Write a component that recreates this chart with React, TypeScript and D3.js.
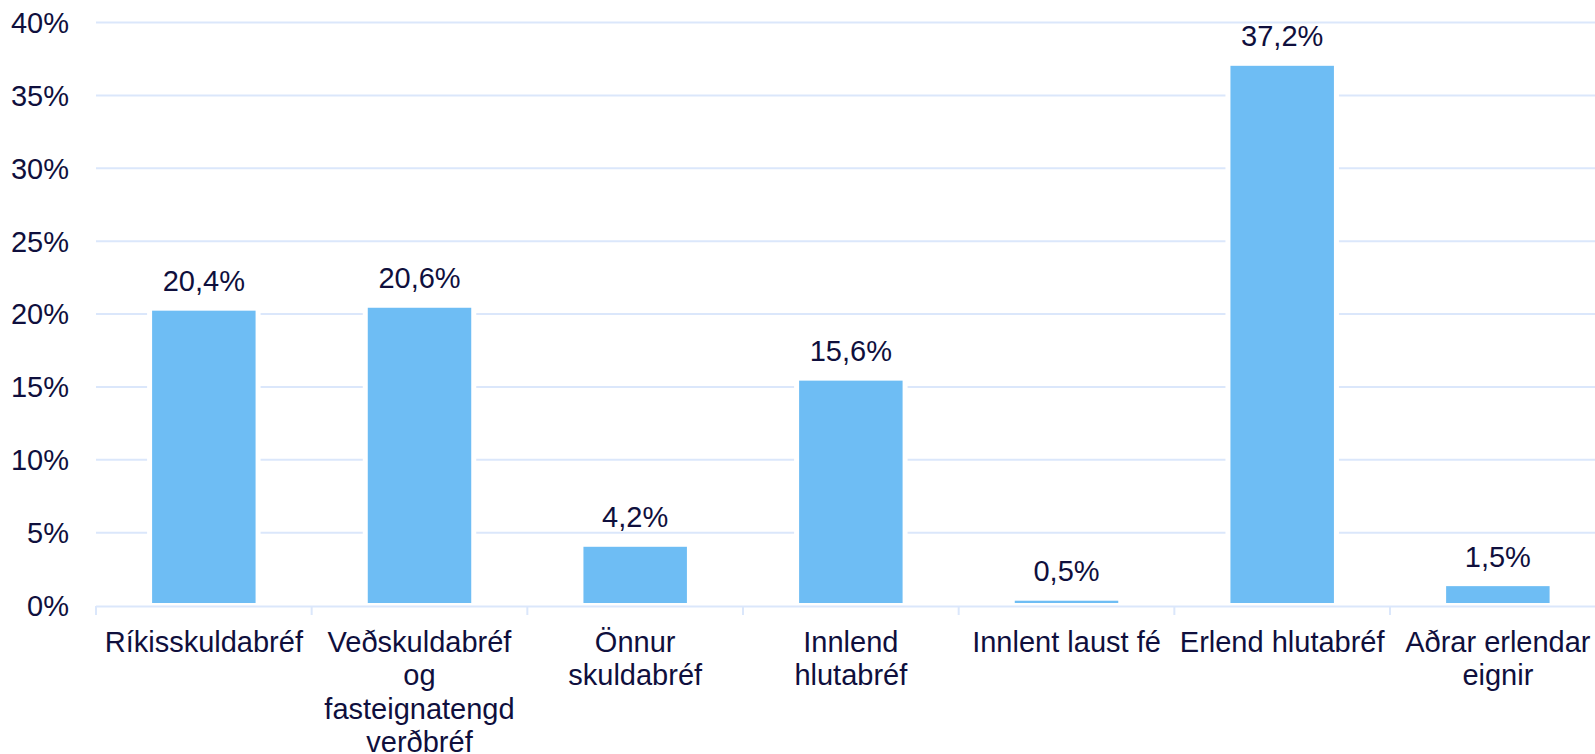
import React from "react";
import * as d3 from "d3";

const categories: string[] = [
  "Ríkisskuldabréf",
  "Veðskuldabréf\nog\nfasteignatengd\nverðbréf",
  "Önnur\nskuldabréf",
  "Innlend\nhlutabréf",
  "Innlent laust fé",
  "Erlend hlutabréf",
  "Aðrar erlendar\neignir",
];
const values: number[] = [20.4, 20.6, 4.2, 15.6, 0.5, 37.2, 1.5];
const yTicks: number[] = [0, 5, 10, 15, 20, 25, 30, 35, 40];

const W = 1595;
const H = 754;
const left = 96;
const right = 96 + 7 * 215.67;
const y0 = 605.5;
const yTop = 22.5;
const TEXT = "#0f0f3d";
const GRID = "#dbe7fb";
const BAR = "#6ebdf4";
const FONT = "'Liberation Sans', Arial, sans-serif";

export default function App() {
  const x = d3.scaleBand<string>().domain(categories).range([left, right]).padding(0);
  const y = d3.scaleLinear().domain([0, 40]).range([y0, yTop]);
  const bw = x.bandwidth();
  const barW = bw * 0.503;
  const fmt = (v: number) => v.toFixed(1).replace(".", ",") + "%";

  return (
    <svg
      width={W}
      height={H}
      style={{ position: "absolute", left: 0, top: 0, background: "#fff" }}
      fontFamily={FONT}
    >
      {yTicks.slice(1).map((t) => (
        <line key={"g" + t} x1={left} x2={right} y1={y(t)} y2={y(t)} stroke={GRID} strokeWidth={2} />
      ))}
      {yTicks.map((t) => (
        <text
          key={"yl" + t}
          x={69}
          y={y(t)}
          dy="0.36em"
          textAnchor="end"
          fontSize={29}
          fill={TEXT}
        >
          {t + "%"}
        </text>
      ))}
      {categories.map((c, i) => {
        const cx = (x(c) as number) + bw / 2;
        return (
          <g key={"b" + i}>
            <rect
              x={cx - barW / 2}
              y={y(values[i])}
              width={barW}
              height={y0 - y(values[i])}
              fill={BAR}
              stroke="#fff"
              strokeWidth={5}
            />
            <text x={cx} y={y(values[i]) - 17} textAnchor="middle" fontSize={29} fill={TEXT}>
              {fmt(values[i])}
            </text>
          </g>
        );
      })}
      <line x1={left} x2={right} y1={606.5} y2={606.5} stroke={GRID} strokeWidth={2} />
      {d3.range(categories.length + 1).map((i) => {
        const tx = left + i * bw;
        return <line key={"t" + i} x1={tx} x2={tx} y1={606} y2={615} stroke={GRID} strokeWidth={2} />;
      })}
      {categories.map((c, i) => {
        const cx = (x(c) as number) + bw / 2;
        return (
          <text key={"c" + i} x={cx} y={651.7} textAnchor="middle" fontSize={29} fill={TEXT}>
            {c.split("\n").map((line, j) => (
              <tspan key={j} x={cx} dy={j === 0 ? 0 : 33.4}>
                {line}
              </tspan>
            ))}
          </text>
        );
      })}
    </svg>
  );
}
